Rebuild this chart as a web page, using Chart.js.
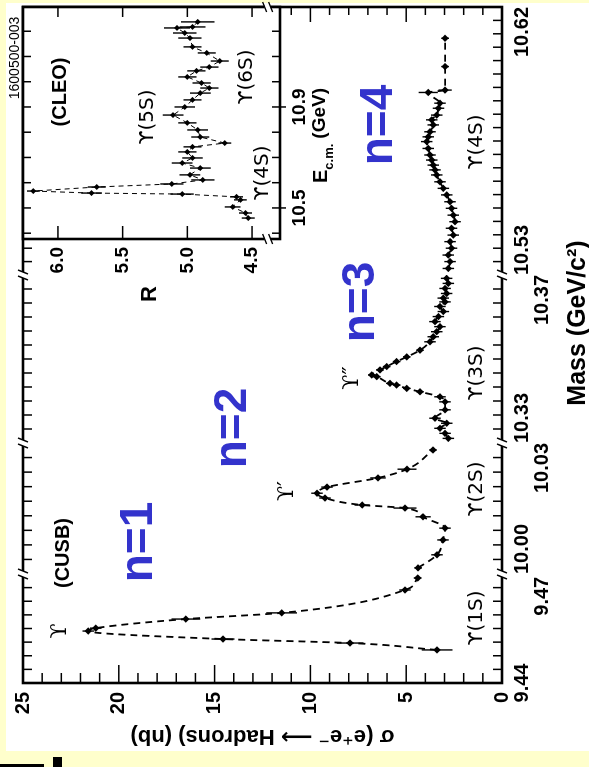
<!DOCTYPE html>
<html>
<head>
<meta charset="utf-8">
<script src="https://cdn.jsdelivr.net/npm/chart.js@4.4.1/dist/chart.umd.min.js"></script>
<style>
  html, body { margin: 0; padding: 0; width: 589px; height: 767px; overflow: hidden; background: #ffffcc; }
  #panel { position: absolute; left: 6px; top: 3px; width: 583px; height: 748px; background: #fff; }
  .scrap { position: absolute; background: #000; }
  /* the figure is drawn upright and turned a quarter turn anticlockwise */
  #turn { position: absolute; left: 0; top: 0; width: 767px; height: 589px;
          transform-origin: 0 0; transform: translate(0, 767px) rotate(-90deg); }
  #mainChart { position: absolute; left: 0; top: 0; }
  #cleoChart { position: absolute; left: 440px; top: 0; }
</style>
</head>
<body>
<div id="panel"></div>
<div class="scrap" style="left:0;top:764px;width:44px;height:3px"></div>
<div class="scrap" style="left:53px;top:757px;width:9px;height:10px"></div>
<div id="turn">
  <canvas id="mainChart" width="767" height="589"></canvas>
  <canvas id="cleoChart" width="327" height="340"></canvas>
</div>
<script>
// CUSB scan: sigma(e+e- -> hadrons) in nb against mass in GeV
const massMain = [
  9.4491, 9.4510, 9.4521, 9.4543, 9.4551, 9.4576, 9.4593, 9.4656, 9.4689,
  10.0014, 10.0044, 10.0078, 10.0105, 10.0131, 10.0151, 10.0158, 10.0174, 10.0185, 10.0199, 10.0220, 10.0240, 10.0284,
  10.3311, 10.3323, 10.3335, 10.3347, 10.3359, 10.3379, 10.3398, 10.3410, 10.3422, 10.3430, 10.3438, 10.3442,
  10.3458, 10.3462, 10.3474, 10.3482, 10.3494, 10.3505, 10.3521, 10.3541, 10.3553, 10.3565, 10.3577, 10.3589,
  10.3601, 10.3613, 10.3625, 10.3636, 10.3645, 10.3656, 10.3668, 10.3680, 10.3692,
  10.5322, 10.5345, 10.5367, 10.5390, 10.5412, 10.5434, 10.5457, 10.5479, 10.5501, 10.5524, 10.5546, 10.5569,
  10.5591, 10.5613, 10.5636, 10.5653, 10.5669, 10.5686, 10.5703, 10.5725, 10.5748, 10.5764, 10.5781, 10.5804,
  10.5821, 10.5837, 10.5860, 10.5877, 10.5913, 10.5921, 10.6000, 10.6095
];
const sigmaMain = [
  3.39, 7.93, 14.56, 21.6, 21.2, 16.5, 11.5, 5.06, 4.4,
  4.38, 3.39, 3.08, 2.97, 4.12, 5.06, 7.30, 9.24, 9.65, 9.13, 6.47, 4.96, 3.60,
  2.80, 2.97, 3.24, 2.89, 3.50, 2.97, 2.97, 3.24, 4.28, 4.97, 5.50, 5.85,
  6.54, 6.80, 6.37, 6.02, 5.50, 4.97, 4.28, 3.76, 3.59, 3.41, 3.24, 3.50,
  3.32, 3.06, 3.24, 2.97, 3.06, 2.89, 2.97, 2.80, 2.89,
  2.80, 2.71, 2.80, 2.63, 2.71, 2.54, 2.63, 2.45, 2.54, 2.63, 2.71, 2.89,
  3.06, 3.24, 3.41, 3.50, 3.59, 3.67, 3.76, 3.85, 3.93, 3.85, 3.76, 3.59,
  3.67, 3.41, 3.32, 3.24, 3.85, 2.97, 2.97, 2.97
];
const errMain = [
  0.8, 0.7, 0.6, 0.3, 0.3, 0.75, 0.8, 0.3, 0.2,
  0.2, 0.3, 0.3, 0.3, 0.4, 0.6, 0.4, 0.3, 0.3, 0.3, 0.4, 0.5, 0.2,
  0.3, 0.3, 0.3, 0.3, 0.3, 0.3, 0.3, 0.3, 0.2, 0.2, 0.2, 0.2,
  0.2, 0.2, 0.2, 0.2, 0.2, 0.2, 0.2, 0.3, 0.3, 0.3, 0.3, 0.3,
  0.3, 0.3, 0.3, 0.3, 0.3, 0.3, 0.3, 0.3, 0.3,
  0.3, 0.3, 0.3, 0.3, 0.3, 0.3, 0.3, 0.3, 0.3, 0.3, 0.3, 0.3,
  0.3, 0.3, 0.3, 0.3, 0.3, 0.3, 0.3, 0.3, 0.3, 0.3, 0.3, 0.3,
  0.3, 0.3, 0.3, 0.3, 0.5, 0.35, 0.2, 0.2
];

// broken mass axis: four windows
const segLo = [9.44, 10.00, 10.33, 10.53];
const segHi = [9.47, 10.03, 10.37, 10.62];
const sigmaTicks = [0, 5, 10, 15, 20, 25];

// CLEO inset: R against E_cm in GeV
const energyCleo = [
  10.460, 10.480, 10.504, 10.532, 10.544, 10.555, 10.559, 10.567, 10.583, 10.595,
  10.611, 10.631, 10.658, 10.678, 10.698, 10.722, 10.742, 10.757, 10.781, 10.809,
  10.837, 10.868, 10.900, 10.928, 10.955, 10.975, 10.995, 11.019, 11.043, 11.058,
  11.082, 11.114, 11.138, 11.173, 11.193, 11.213, 11.217, 11.237
];
const rCleo = [
  4.53, 4.55, 4.65, 4.59, 4.62, 5.04, 5.74, 6.19, 5.70, 5.12,
  4.88, 4.98, 4.90, 5.04, 4.96, 5.00, 4.96, 4.71, 4.90, 4.92,
  5.00, 5.11, 5.02, 4.96, 4.90, 4.83, 4.89, 5.00, 4.93, 4.83,
  4.75, 4.85, 4.96, 4.98, 5.02, 5.08, 4.96, 4.92
];
const errCleo = [
  0.05, 0.05, 0.06, 0.05, 0.05, 0.09, 0.08, 0.05, 0.07, 0.09,
  0.09, 0.08, 0.08, 0.08, 0.08, 0.07, 0.07, 0.05, 0.07, 0.08,
  0.07, 0.08, 0.08, 0.07, 0.08, 0.07, 0.07, 0.07, 0.07, 0.07,
  0.07, 0.07, 0.07, 0.09, 0.09, 0.10, 0.10, 0.13
];
const eTicks = [10.4, 10.5, 10.6, 10.7, 10.8, 10.9, 11.0, 11.1, 11.2];
const eLabels = [10.5, 10.9];
const rTicks = [4.5, 5.0, 5.5, 6.0];

// layout bits
const segWidth = [109, 131, 168, 268];
const segTickCount = [8, 9, 12, 20];
const FAMILY = '"Liberation Sans", "DejaVu Sans", sans-serif';
const tickFont = { family: FAMILY, size: 20, weight: 'bold', lineHeight: 1 };
const BLUE = '#3333cc';

function seg(ctx, x0, y0, x1, y1) {
  ctx.beginPath(); ctx.moveTo(x0, y0); ctx.lineTo(x1, y1); ctx.stroke();
}
function txt(ctx, s, x, y, font, color, align) {
  ctx.font = font; ctx.fillStyle = color || '#000';
  ctx.textAlign = align || 'center'; ctx.textBaseline = 'middle';
  ctx.fillText(s, x, y);
}
// little "//" cut on an axis line
function breakMark(ctx, x, y, vertical) {
  ctx.save();
  ctx.fillStyle = '#fff';
  ctx.fillRect(x - 3, y - 3, 6, 6);
  ctx.strokeStyle = '#000'; ctx.lineWidth = 1.5;
  if (vertical) {
    seg(ctx, x - 5, y - 1, x + 5, y - 5);
    seg(ctx, x - 5, y + 5, x + 5, y + 1);
  } else {
    seg(ctx, x - 5, y + 5, x - 1, y - 5);
    seg(ctx, x + 1, y + 5, x + 5, y - 5);
  }
  ctx.restore();
}
function errorBars(chart, yScale) {
  const ctx = chart.ctx;
  ctx.strokeStyle = '#000'; ctx.lineWidth = 1.4;
  chart.data.datasets.forEach((ds, di) => {
    chart.getDatasetMeta(di).data.forEach((pt, i) => {
      const e = ds.errs[i];
      if (!e) return;
      const v = ds.data[i].y;
      seg(ctx, pt.x, yScale.getPixelForValue(v - e), pt.x, yScale.getPixelForValue(v + e));
    });
  });
}

const mainDeco = {
  id: 'mainDeco',
  afterDatasetsDraw(chart) {
    const { ctx, chartArea: a, scales } = chart;
    ctx.save();
    errorBars(chart, scales.y);
    ctx.strokeStyle = '#000'; ctx.lineWidth = 1.5;
    for (let s = 0; s <= 25; s++) {
      const y = scales.y.getPixelForValue(s);
      const big = s % 5 === 0;
      seg(ctx, a.left, y, a.left + (big ? 18 : 10), y);
      seg(ctx, a.right, y, a.right - (big ? 15 : 8), y);
    }
    ['x1', 'x2', 'x3', 'x4'].forEach(id => {
      const sc = scales[id];
      sc.ticks.forEach((t, j) => {
        if (j === 0 || j === sc.ticks.length - 1) return;
        const x = sc.getPixelForValue(t.value);
        seg(ctx, x, a.bottom, x, a.bottom - 9);
        seg(ctx, x, a.top, x, a.top + 9);
      });
    });
    ctx.lineWidth = 2.6;
    ctx.strokeRect(a.left, a.top, a.right - a.left, a.bottom - a.top);
    ['x2', 'x3', 'x4'].forEach(id => {
      breakMark(ctx, scales[id].left, a.top);
      breakMark(ctx, scales[id].left, a.bottom);
    });

    const serif = '22px "DejaVu Serif", serif';
    const lab = 'bold 20px ' + FAMILY;
    const big = 'bold 46px ' + FAMILY;
    txt(ctx, 'ϒ', 136, 60, serif);
    txt(ctx, '(CUSB)', 214, 63, lab);
    txt(ctx, 'ϒ′', 276, 287, serif);
    txt(ctx, 'ϒ″', 389, 352, serif);
    txt(ctx, 'n=1', 225, 139, big, BLUE);
    txt(ctx, 'n=2', 339, 233, big, BLUE);
    txt(ctx, 'n=3', 465, 361, big, BLUE);
    txt(ctx, 'n=4', 642, 379, big, BLUE);
    const ups = '20px "DejaVu Sans", sans-serif';
    txt(ctx, 'ϒ(1S)', 149, 477, ups);
    txt(ctx, 'ϒ(2S)', 278, 477, ups);
    txt(ctx, 'ϒ(3S)', 394, 477, ups);
    txt(ctx, 'ϒ(4S)', 625, 477, ups);
    txt(ctx, 'Mass (GeV/c²)', 444, 578, 'bold 25px ' + FAMILY);
    ctx.restore();
  }
};

const segSets = segLo.map((lo, k) => {
  const pts = [], errs = [];
  massMain.forEach((m, i) => {
    if (m >= lo && m <= segHi[k]) { pts.push({ x: m, y: sigmaMain[i] }); errs.push(errMain[i]); }
  });
  return {
    data: pts, errs, xAxisID: 'x' + (k + 1), yAxisID: 'y',
    borderColor: '#000', borderWidth: 1.8, borderDash: [7, 5],
    pointStyle: 'rectRot', pointRadius: 3.7, pointBackgroundColor: '#000', pointBorderWidth: 0,
    cubicInterpolationMode: 'monotone', fill: false
  };
});

const mainScales = {
  y: {
    type: 'linear', position: 'left', min: 0, max: 25,
    afterFit: s => { s.width = 84; },
    afterBuildTicks: s => { s.ticks = sigmaTicks.map(v => ({ value: v })); },
    grid: { display: false, drawTicks: false },
    border: { display: false },
    ticks: { padding: 9, color: '#000', font: tickFont },
    title: {
      display: true, text: 'σ (e⁺e⁻ ⟶ Hadrons) (nb)', color: '#000',
      font: { family: FAMILY, size: 22, weight: 'bold', lineHeight: 1.2 },
      padding: { top: 18, bottom: 0 }
    }
  }
};
segLo.forEach((lo, k) => {
  const hi = segHi[k];
  mainScales['x' + (k + 1)] = {
    type: 'linear', position: 'bottom', stack: 'mass', stackWeight: segWidth[k],
    min: lo, max: hi,
    afterBuildTicks: s => {
      const n = segTickCount[k];
      s.ticks = Array.from({ length: n + 1 }, (_, j) => ({ value: lo + (hi - lo) * j / n }));
    },
    afterFit: s => { s.height = 87; s.paddingLeft = 0; s.paddingRight = 0; },
    grid: { display: false, drawTicks: false },
    border: { display: false },
    ticks: {
      autoSkip: false, maxRotation: 0, minRotation: 0,
      // first window: start label centred, end label pushed left of the cut
      align: k === 0 ? 'center' : 'inner', padding: 10,
      color: '#000', font: tickFont,
      callback: (v, i, arr) => {
        if (i === 0) return lo.toFixed(2);
        if (i === arr.length - 1) {
          if (k === 3) return hi.toFixed(2);
          return ['', k === 0 ? hi.toFixed(2) + '        ' : hi.toFixed(2)];
        }
        return '';
      }
    }
  };
});

new Chart(document.getElementById('mainChart'), {
  type: 'line',
  data: { datasets: segSets },
  options: {
    responsive: false, animation: false,
    layout: { padding: { top: 23, right: 7, bottom: 0, left: 0 } },
    plugins: { legend: { display: false }, tooltip: { enabled: false } },
    scales: mainScales
  },
  plugins: [mainDeco]
});

// inset
const cleoDeco = {
  id: 'cleoDeco',
  beforeDatasetsDraw(chart) {
    const { ctx, chartArea: a } = chart;
    ctx.save(); ctx.fillStyle = '#fff';
    ctx.fillRect(a.left - 1, a.top - 1, a.right - a.left + 2, a.bottom - a.top + 2);
    ctx.restore();
  },
  afterDatasetsDraw(chart) {
    const { ctx, chartArea: a, scales } = chart;
    ctx.save();
    errorBars(chart, scales.y);
    ctx.strokeStyle = '#000'; ctx.lineWidth = 1.5;
    eTicks.forEach(e => {
      const x = scales.x.getPixelForValue(e);
      const lab = eLabels.some(l => Math.abs(l - e) < 1e-6);
      seg(ctx, x, a.bottom + (lab ? 6 : 0), x, a.bottom - 8);
      seg(ctx, x, a.top, x, a.top + 8);
    });
    rTicks.forEach(r => {
      const y = scales.y.getPixelForValue(r);
      seg(ctx, a.left, y, a.left + 13, y);
      seg(ctx, a.right, y, a.right - 10, y);
    });
    ctx.lineWidth = 2.6;
    ctx.strokeRect(a.left, a.top, a.right - a.left, a.bottom - a.top);
    const yb = scales.y.getPixelForValue(4.38);
    breakMark(ctx, a.left, yb, true);
    breakMark(ctx, a.right, yb, true);

    const lab = 'bold 20px ' + FAMILY;
    const ups = '20px "DejaVu Sans", sans-serif';
    txt(ctx, '(CLEO)', 235, 60, lab);
    txt(ctx, 'ϒ(5S)', 210, 148, ups);
    txt(ctx, 'ϒ(6S)', 250, 247, ups);
    txt(ctx, 'ϒ(4S)', 154, 263, ups);
    txt(ctx, 'R', 33, 150, 'bold 22px ' + FAMILY);
    txt(ctx, '1600500-003', 269, 15, '14px ' + FAMILY);
    // E_c.m. (GeV)
    ctx.fillStyle = '#000'; ctx.textAlign = 'left'; ctx.textBaseline = 'alphabetic';
    ctx.font = 'bold 20px ' + FAMILY;
    ctx.fillText('E', 144, 327);
    let x = 144 + ctx.measureText('E').width;
    ctx.font = 'bold 13px ' + FAMILY;
    ctx.fillText('c.m.', x, 333);
    x += ctx.measureText('c.m.').width + 5;
    ctx.font = 'bold 19px ' + FAMILY;
    ctx.fillText('(GeV)', x, 325);
    ctx.restore();
  }
};

new Chart(document.getElementById('cleoChart'), {
  type: 'line',
  data: {
    datasets: [{
      data: energyCleo.map((e, i) => ({ x: e, y: rCleo[i] })), errs: errCleo,
      borderColor: '#000', borderWidth: 1, borderDash: [5, 4],
      pointStyle: 'rectRot', pointRadius: 3, pointBackgroundColor: '#000', pointBorderWidth: 0,
      tension: 0, fill: false
    }]
  },
  options: {
    responsive: false, animation: false,
    layout: { padding: { top: 23, right: 7, bottom: 0, left: 0 } },
    plugins: { legend: { display: false }, tooltip: { enabled: false } },
    scales: {
      x: {
        type: 'linear', position: 'bottom', min: 10.377, max: 11.296,
        afterBuildTicks: s => { s.ticks = eTicks.map(v => ({ value: v })); },
        afterFit: s => { s.height = 60; s.paddingLeft = 0; s.paddingRight = 0; },
        grid: { display: false, drawTicks: false }, border: { display: false },
        ticks: {
          autoSkip: false, maxRotation: 0, padding: 10, color: '#000',
          font: { family: FAMILY, size: 19, weight: 'bold', lineHeight: 1 },
          callback: v => eLabels.some(l => Math.abs(l - v) < 1e-6) ? v.toFixed(1) : ''
        }
      },
      y: {
        type: 'linear', position: 'left', min: 4.284, max: 6.27,
        afterBuildTicks: s => { s.ticks = rTicks.map(v => ({ value: v })); },
        afterFit: s => { s.width = 88; },
        grid: { display: false, drawTicks: false }, border: { display: false },
        ticks: {
          padding: 8, color: '#000',
          font: { family: FAMILY, size: 19, weight: 'bold', lineHeight: 1 },
          callback: v => v.toFixed(1)
        }
      }
    }
  },
  plugins: [cleoDeco]
});
</script>
</body>
</html>
